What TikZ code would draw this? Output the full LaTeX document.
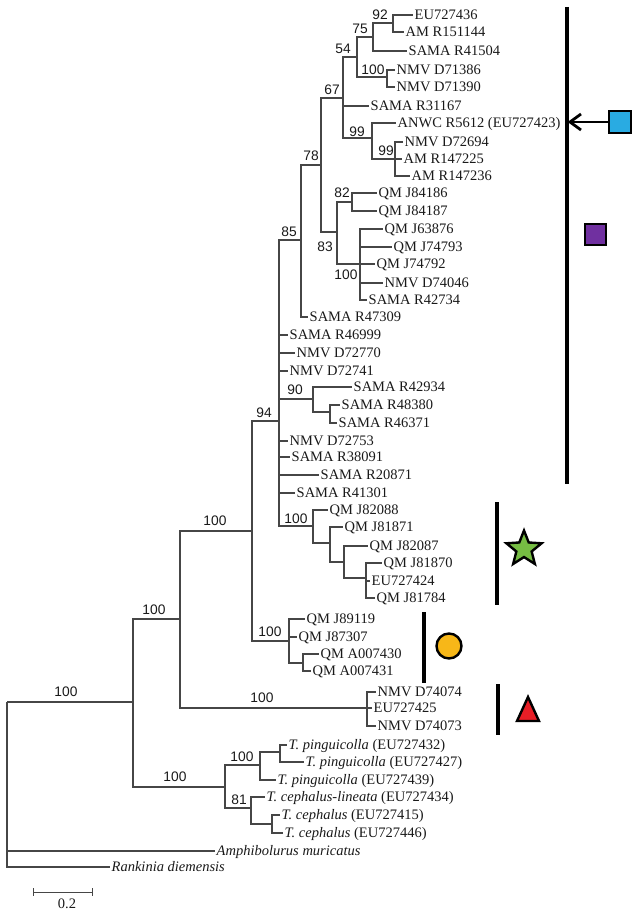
\documentclass[tikz,border=0pt]{standalone}
\usepackage{fontspec}
\setmainfont{Liberation Serif}
\newfontfamily\bsfont{Liberation Sans}
\usetikzlibrary{shapes.geometric,arrows.meta}
\definecolor{brc}{RGB}{70,70,70}
\definecolor{txc}{RGB}{25,25,25}
\definecolor{blueC}{RGB}{41,171,226}
\definecolor{purpC}{RGB}{112,48,160}
\definecolor{greenC}{RGB}{118,189,67}
\definecolor{orangeC}{RGB}{247,183,24}
\definecolor{redC}{RGB}{232,30,38}
\tikzset{
  br/.style={draw=brc,line width=1.2pt},
  tip/.style={anchor=west,inner xsep=1.5pt,inner ysep=0pt,text height=9.6pt,text depth=0pt,
    font=\fontsize{14.5}{14.5}\selectfont,text=txc},
  supp/.style={inner sep=0pt,text height=9.9pt,text depth=0pt,
    font=\bsfont\fontsize{13.8}{13.8}\selectfont,text=txc},
  cladebar/.style={draw=black,line width=3.3pt},
  sq/.style={draw=black,line width=2.8pt,inner sep=0pt,minimum size=21pt,rectangle},
}
\begin{document}
\begin{tikzpicture}[x=1pt,y=-1pt]
\useasboundingbox (0,0) rectangle (640,917);
% internal nodes
\coordinate (R) at (7,702);
\coordinate (A) at (133,702);
\coordinate (B) at (180,619);
\coordinate (C) at (252,531);
\coordinate (D94) at (279,421);
\coordinate (N85) at (301,240);
\coordinate (N78) at (321,165);
\coordinate (N67) at (343,98);
\coordinate (N54) at (357,57);
\coordinate (N75) at (373,37);
\coordinate (N92) at (393,23);
\coordinate (N100a) at (387,77);
\coordinate (N99a) at (372,138);
\coordinate (N99b) at (395,159);
\coordinate (N83) at (337,232);
\coordinate (N82) at (352,202);
\coordinate (N100b) at (360,264);
\coordinate (N90) at (313,399);
\coordinate (Nin) at (330,412);
\coordinate (Star) at (313,526);
\coordinate (S2) at (330,543);
\coordinate (S3) at (344,562);
\coordinate (S4) at (366,578);
\coordinate (Circ) at (289,641);
\coordinate (Circ2) at (303,663);
\coordinate (Tri) at (367,708);
\coordinate (Ty) at (225,787);
\coordinate (P100) at (260,765);
\coordinate (P2) at (280,752);
\coordinate (N81) at (251,808);
\coordinate (Ce2) at (272,824);
% tips
\node[tip] (t01) at (413,15) {EU727436};
\node[tip] (t02) at (404,32) {AM R151144};
\node[tip] (t03) at (407,51) {SAMA R41504};
\node[tip] (t04) at (395,70) {NMV D71386};
\node[tip] (t05) at (395,87) {NMV D71390};
\node[tip] (t06) at (369,106) {SAMA R31167};
\node[tip] (t07) at (396,123) {ANWC R5612 (EU727423)};
\node[tip] (t08) at (403,142) {NMV D72694};
\node[tip] (t09) at (402,159) {AM R147225};
\node[tip] (t10) at (410,176) {AM R147236};
\node[tip] (t11) at (377,193) {QM J84186};
\node[tip] (t12) at (377,211) {QM J84187};
\node[tip] (t13) at (383,229) {QM J63876};
\node[tip] (t14) at (392,247) {QM J74793};
\node[tip] (t15) at (375,264) {QM J74792};
\node[tip] (t16) at (383,283) {NMV D74046};
\node[tip] (t17) at (367,300) {SAMA R42734};
\node[tip] (t18) at (308,317) {SAMA R47309};
\node[tip] (t19) at (288,335) {SAMA R46999};
\node[tip] (t20) at (295,353) {NMV D72770};
\node[tip] (t21) at (288,371) {NMV D72741};
\node[tip] (t22) at (352,387) {SAMA R42934};
\node[tip] (t23) at (340,405) {SAMA R48380};
\node[tip] (t24) at (337,423) {SAMA R46371};
\node[tip] (t25) at (288,441) {NMV D72753};
\node[tip] (t26) at (290,457) {SAMA R38091};
\node[tip] (t27) at (319,475) {SAMA R20871};
\node[tip] (t28) at (295,493) {SAMA R41301};
\node[tip] (t29) at (328,510) {QM J82088};
\node[tip] (t30) at (343,527) {QM J81871};
\node[tip] (t31) at (368,546) {QM J82087};
\node[tip] (t32) at (382,563) {QM J81870};
\node[tip] (t33) at (370,581) {EU727424};
\node[tip] (t34) at (375,598) {QM J81784};
\node[tip] (t35) at (305,619) {QM J89119};
\node[tip] (t36) at (297,637) {QM J87307};
\node[tip] (t37) at (319,654) {QM A007430};
\node[tip] (t38) at (311,671) {QM A007431};
\node[tip] (t39) at (376,692) {NMV D74074};
\node[tip] (t40) at (372,708) {EU727425};
\node[tip] (t41) at (376,726) {NMV D74073};
\node[tip] (t42) at (287,745) {\textit{T. pinguicolla} (EU727432)};
\node[tip] (t43) at (304,762) {\textit{T. pinguicolla} (EU727427)};
\node[tip] (t44) at (276,780) {\textit{T. pinguicolla} (EU727439)};
\node[tip] (t45) at (265,797) {\textit{T. cephalus-lineata} (EU727434)};
\node[tip] (t46) at (280,815) {\textit{T. cephalus} (EU727415)};
\node[tip] (t47) at (283,833) {\textit{T. cephalus} (EU727446)};
\node[tip] (t48) at (215,851) {\textit{Amphibolurus muricatus}};
\node[tip] (t49) at (110,867) {\textit{Rankinia diemensis}};
% branches to internal nodes
\foreach \p/\c in {R/A,A/B,A/Ty,B/C,B/Tri,C/D94,C/Circ,D94/N85,D94/N90,D94/Star,
  N85/N78,N78/N67,N78/N83,N67/N54,N67/N99a,N54/N75,N54/N100a,N75/N92,N99a/N99b,
  N83/N82,N83/N100b,N90/Nin,Star/S2,S2/S3,S3/S4,Circ/Circ2,Ty/P100,Ty/N81,P100/P2,N81/Ce2}
  \draw[br] (\p) |- (\c);
% branches to tips
\foreach \p/\c in {R/t48,R/t49,D94/t19,D94/t20,D94/t21,D94/t25,D94/t26,D94/t27,D94/t28,
  N85/t18,N67/t06,N75/t03,N92/t01,N92/t02,N100a/t04,N100a/t05,N99a/t07,
  N99b/t08,N99b/t09,N99b/t10,N82/t11,N82/t12,N100b/t13,N100b/t14,N100b/t15,N100b/t16,N100b/t17,
  N90/t22,Nin/t23,Nin/t24,Star/t29,S2/t30,S3/t31,S4/t32,S4/t33,S4/t34,
  Circ/t35,Circ/t36,Circ2/t37,Circ2/t38,Tri/t39,Tri/t40,Tri/t41,
  P100/t44,P2/t42,P2/t43,N81/t45,Ce2/t46,Ce2/t47}
  \draw[br] (\p) |- (\c.west);
% support values
\node[supp] (s01) at (66,692) {100};
\node[supp] (s02) at (154,610) {100};
\node[supp] (s03) at (215,521) {100};
\node[supp] (s04) at (262,698) {100};
\node[supp] (s05) at (264,413) {94};
\node[supp] (s06) at (270,632) {100};
\node[supp] (s07) at (296,519) {100};
\node[supp] (s08) at (289,232) {85};
\node[supp] (s09) at (311,156) {78};
\node[supp] (s10) at (332,90) {67};
\node[supp] (s11) at (343,49) {54};
\node[supp] (s12) at (360,29) {75};
\node[supp] (s13) at (380,15) {92};
\node[supp] (s14) at (373,70) {100};
\node[supp] (s15) at (357,132) {99};
\node[supp] (s16) at (386,151) {99};
\node[supp] (s17) at (342,193) {82};
\node[supp] (s18) at (325,247) {83};
\node[supp] (s19) at (346,275) {100};
\node[supp] (s20) at (295,390) {90};
\node[supp] (s21) at (175,777) {100};
\node[supp] (s22) at (242,757) {100};
\node[supp] (s23) at (239,800) {81};
% clade bars
\draw[cladebar] (567,7) -- (567,484);
\draw[cladebar] (497,502) -- (497,605);
\draw[cladebar] (424,612) -- (424,683);
\draw[cladebar] (498,684) -- (498,735);
% symbols
\node[sq,fill=blueC,minimum size=22pt] (bsq) at (620,122) {};
\coordinate (arrtip) at (570,122);
\draw[line width=2.8pt] (bsq) -- (arrtip);
\draw[line width=2.8pt,line join=miter,line cap=butt] (arrtip) ++(11,-8) -- (arrtip) -- ++(11,8);
\node[sq,fill=purpC] (psq) at (595.5,234.5) {};
\node[star,star points=5,star point ratio=2.3,minimum size=37pt,inner sep=0pt,draw=black,line width=2.4pt,fill=greenC] (gstar) at (524,549) {};
\node[circle,minimum size=25pt,inner sep=0pt,draw=black,line width=2.4pt,fill=orangeC] (ycirc) at (449,646) {};
\draw[line width=2.4pt,fill=redC,line join=miter] (517,721) -- (539,721) -- (528,697) -- cycle;
% scale bar
\coordinate (sb1) at (33,892);
\coordinate (sb2) at (92,892);
\draw[line width=1pt,draw=brc] (sb1) -- (sb2);
\draw[line width=1pt,draw=brc] (33,888) -- (33,896) (92,888) -- (92,896);
\node[inner sep=0pt,font=\fontsize{14.5}{14.5}\selectfont,text=txc] (sbl) at (67,904) {0.2};
\end{tikzpicture}
\end{document}
